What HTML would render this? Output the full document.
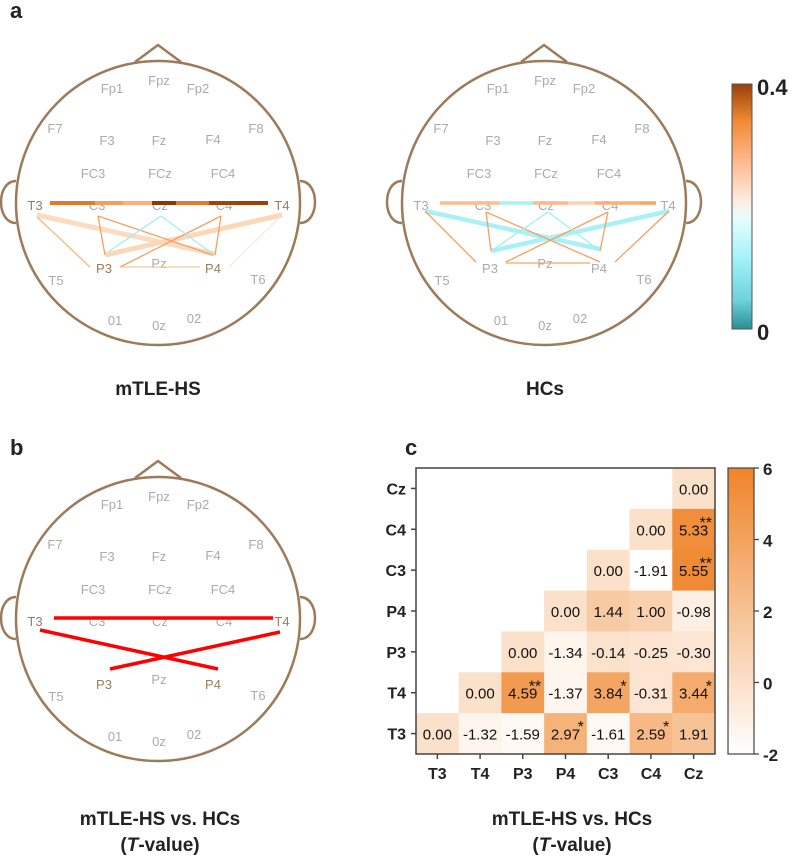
<!DOCTYPE html>
<html><head><meta charset="utf-8">
<style>
html,body{margin:0;padding:0;background:#fff;}
svg{display:block;font-family:"Liberation Sans",sans-serif;}
</style></head>
<body>
<svg id="fig" width="798" height="859" viewBox="0 0 798 859" xmlns="http://www.w3.org/2000/svg">
<defs>
<linearGradient id="cbA" x1="0" y1="1" x2="0" y2="0">
<stop offset="0" stop-color="#2a8e95"/><stop offset="0.12" stop-color="#6fd3dc"/><stop offset="0.3" stop-color="#a8f3fa"/><stop offset="0.45" stop-color="#e6fdfd"/><stop offset="0.52" stop-color="#fbeee3"/><stop offset="0.7" stop-color="#fdb483"/><stop offset="0.85" stop-color="#f08a34"/><stop offset="1" stop-color="#98400a"/>
</linearGradient>
<linearGradient id="cbC" x1="0" y1="1" x2="0" y2="0">
<stop offset="0" stop-color="#ffffff"/><stop offset="1" stop-color="#ef8429"/>
</linearGradient>
</defs>
<g id="panels"></g>
</svg>
<script>
const NS="http://www.w3.org/2000/svg";
const svg=document.getElementById('panels');
function mk(tag,attrs,parent,txt){const e=document.createElementNS(NS,tag);for(const k in attrs)e.setAttribute(k,attrs[k]);if(txt!==undefined)e.textContent=txt;(parent||svg).appendChild(e);return e;}

// heatmap data
const cols=["T3","T4","P3","P4","C3","C4","Cz"];
const rowsTop=["Cz","C4","C3","P4","P3","T4","T3"];
const rowT3=[0.00,-1.32,-1.59,2.97,-1.61,2.59,1.91];
const rowT4=[null,0.00,4.59,-1.37,3.84,-0.31,3.44];
const rowP3=[null,null,0.00,-1.34,-0.14,-0.25,-0.30];
const rowP4=[null,null,null,0.00,1.44,1.00,-0.98];
const rowC3=[null,null,null,null,0.00,-1.91,5.55];
const rowC4=[null,null,null,null,null,0.00,5.33];
const rowCz=[null,null,null,null,null,null,0.00];
const starsT3=["","","","*","","*",""];
const starsT4=["","","**","","*","","*"];
const starsC3=["","","","","","","**"];
const starsC4=["","","","","","","**"];
const cbTicks=[6,4,2,0,-2];

// electrode layout (relative to head centre)
const elec={Fp1:[-46,-115],Fpz:[1,-123],Fp2:[40,-115],F7:[-103,-75],F3:[-51,-63],Fz:[1,-63],F4:[55,-64],F8:[98,-75],FC3:[-65,-30],FCz:[2,-30],FC4:[65,-30],T3:[-123,2],C3:[-61,2],Cz:[2,2],C4:[66,2],T4:[124,2],P3:[-54,65],Pz:[1,60],P4:[55,65],T5:[-102,77],T6:[100,76],O1:[-43,117],Oz:[1,122],O2:[36,115]};
const labelText={O1:"01",Oz:"0z",O2:"02",C3:"C3",Cz:"Cz",C4:"C4"};

function head(cx,cy,name,hl){
  const g=mk('g',{});
  
  
  const st={fill:'none',stroke:'#9c7b5b','stroke-width':2.5};
  mk('path',Object.assign({d:`M${cx-23},${cy-141} L${cx},${cy-158} L${cx+23},${cy-141}`},st),g);
  mk('path',Object.assign({d:`M${cx-142},${cy-22} C${cx-162},${cy-22} ${cx-162},${cy+20} ${cx-142},${cy+20}`},st),g);
  mk('path',Object.assign({d:`M${cx+142},${cy-22} C${cx+162},${cy-22} ${cx+162},${cy+20} ${cx+142},${cy+20}`},st),g);
  mk('circle',Object.assign({cx:cx,cy:cy,r:142},st),g);
  for(const k in elec){
    const t=mk('text',{x:cx+elec[k][0],y:cy+elec[k][1]+5,'text-anchor':'middle','font-size':13,fill:hl.includes(k)?'#9c7b5b':'#aaaaaa'},g,labelText[k]||k);
    
    
  }
  return g;
}
function line(g,x1,y1,x2,y2,c,w,name){
  const l=mk('line',{x1,y1,x2,y2,stroke:c,'stroke-width':w},g);
  
  
}
function txt(x,y,s,size,anchor,name,extra){
  const t=mk('text',Object.assign({x,y,'font-size':size,'font-weight':'bold','text-anchor':anchor||'middle',fill:'#222'},extra||{}),svg,s);
  
  
  return t;
}

// Panel a - mTLE-HS
let cx=158,cy=203;
let g=head(cx,cy,'head-mtle-hs',['T3','T4','P3','P4']);
const segA=[[50,95,'#e07a2c'],[95,123,'#f0a060'],[123,152,'#fbb27c'],[152,176,'#8a3a08'],[176,209,'#e27a30'],[209,236,'#a0450c'],[236,268,'#9a420a']];
segA.forEach((s,i)=>line(g,s[0],cy,s[1],cy,s[2],4,'conn-t3-t4-seg'+i));
line(g,37,215,215,254,'#fbdcc0',5,'conn-t3-p4');
line(g,282,215,105,255,'#fbd8b8',5,'conn-t4-p3');
line(g,98,216,105,255,'#f5a060',1.3,'conn-c3-p3');
line(g,98,216,213,255,'#f5a060',1.3,'conn-c3-p4');
line(g,221,216,215,255,'#f5a060',1.3,'conn-c4-p4');
line(g,221,216,120,267,'#f5a060',1.3,'conn-c4-p3');
line(g,161,216,108,252,'#9eeff5',1.3,'conn-cz-p3');
line(g,161,216,213,254,'#9eeff5',1.3,'conn-cz-p4');
line(g,120,267,200,267,'#f8c8a0',1.3,'conn-p3-p4');
line(g,37,217,90,267,'#f8b880',1.3,'conn-t3-p3');
line(g,280,217,229,267,'#f3ebe3',1.3,'conn-t4-p4');

// Panel a - HCs
cx=544;
g=head(cx,cy,'head-hcs',[]);
const segB=[[440,500,'#fbbf90'],[500,533,'#a8f1f6'],[533,568,'#fbb88a'],[568,595,'#fdd2b0'],[595,640,'#f9b07a'],[640,656,'#f6a46a']];
segB.forEach((s,i)=>line(g,s[0],cy,s[1],cy,s[2],3.5,'conn-t3-t4-seg'+i));
line(g,425,211,600,249,'#a9f1f6',4.5,'conn-t3-p4');
line(g,669,211,491,251,'#a9f1f6',4.5,'conn-t4-p3');
line(g,486,212,491,251,'#f5a060',1.3,'conn-c3-p3');
line(g,486,212,600,262,'#f5a060',1.3,'conn-c3-p4');
line(g,608,212,600,251,'#f5a060',1.3,'conn-c4-p4');
line(g,608,212,506,262,'#f5a060',1.3,'conn-c4-p3');
line(g,548,212,491,251,'#9eeff5',1.3,'conn-cz-p3');
line(g,548,212,600,251,'#9eeff5',1.3,'conn-cz-p4');
line(g,506,263,590,263,'#f5a868',1.3,'conn-p3-p4');
line(g,425,211,476,262,'#f5a060',1.3,'conn-t3-p3');
line(g,669,211,615,262,'#f5a060',1.3,'conn-t4-p4');

// colorbar a
let r=mk('rect',{x:732,y:84,width:20,height:245,fill:'url(#cbA)',stroke:'#555','stroke-width':1});

txt(757,95,'0.4',22,'start','colorbar-a-max');
txt(757,340,'0',22,'start','colorbar-a-min');

txt(10,18,'a',22,'start','panel-label-a');
txt(158,395,'mTLE-HS',19,'middle','title-mtle-hs');
txt(545,395,'HCs',19,'middle','title-hcs');

// Panel b
cx=158;cy=619;
g=head(cx,cy,'head-difference',['T3','T4','P3','P4']);
line(g,54,618,273,618,'#ff0000',3.5,'conn-t3-t4');
line(g,40,630,218,669,'#ff0000',3.5,'conn-t3-p4');
line(g,280,632,110,669,'#ff0000',3.5,'conn-t4-p3');
txt(10,455,'b',22,'start','panel-label-b');
txt(160,825,'mTLE-HS vs. HCs',19,'middle','title-b-line1');
let t2=txt(160,851,'',19,'middle','title-b-line2');
t2.innerHTML='(<tspan font-style="italic">T</tspan>-value)';

// Panel c heatmap
txt(405,455,'c',22,'start','panel-label-c');
const L=416,R=715,T=468,B=754,cw=(R-L)/cols.length,ch=(B-T)/rowsTop.length;
const vmin=-2,vmax=6;
function xPos(i){return L+i*cw;}
function yPos(j){return T+j*ch;}
function color(v){const f=Math.max(0,Math.min(1,(v-vmin)/(vmax-vmin)));const a=[255,255,255],b=[239,132,41];return `rgb(${a.map((x,i)=>Math.round(x+(b[i]-x)*f)).join(',')})`;}
const rowData={T3:rowT3,T4:rowT4,P3:rowP3,P4:rowP4,C3:rowC3,C4:rowC4,Cz:rowCz};
const rowStars={T3:starsT3,T4:starsT4,C3:starsC3,C4:starsC4};
const hm=mk('g',{});


rowsTop.forEach((rn,j)=>{
  rowData[rn].forEach((v,i)=>{
    if(v===null)return;
    const c=mk('rect',{x:xPos(i),y:yPos(j),width:cw+0.5,height:ch+0.5,fill:color(v)},hm);
    
    
    const t=mk('text',{x:xPos(i)+cw/2,y:yPos(j)+ch/2+6,'text-anchor':'middle','font-size':15,fill:'#111'},hm,v.toFixed(2));
    
    
    const s=rowStars[rn]?rowStars[rn][i]:'';
    if(s){const st=mk('text',{x:xPos(i)+cw-3,y:yPos(j)+19,'text-anchor':'end','font-size':16,fill:'#111'},hm,s);
      
      }
  });
});
r=mk('rect',{x:L,y:T,width:R-L,height:B-T,fill:'none',stroke:'#444','stroke-width':1.5});

cols.forEach((c,i)=>{
  const x=xPos(i)+cw/2;
  line(svg,x,B,x,B+5,'#444',1.5,'x-tick');
  txt(x,B+25,c,16,'middle','x-tick-label-'+c.toLowerCase());
});
rowsTop.forEach((rn,j)=>{
  const y=yPos(j)+ch/2;
  line(svg,L-5,y,L,y,'#444',1.5,'y-tick');
  txt(L-10,y+6,rn,16,'end','y-tick-label-'+rn.toLowerCase());
});
r=mk('rect',{x:728,y:T,width:26,height:B-T,fill:'url(#cbC)',stroke:'#444','stroke-width':1.2});

cbTicks.forEach(v=>{
  const y=B-(v-vmin)/(vmax-vmin)*(B-T);
  line(svg,754,y,759,y,'#444',1.3,'colorbar-tick');
  txt(763,y+7,String(v),17,'start','colorbar-tick-label');
});
txt(572,825,'mTLE-HS vs. HCs',19,'middle','title-c-line1');
t2=txt(572,851,'',19,'middle','title-c-line2');
t2.innerHTML='(<tspan font-style="italic">T</tspan>-value)';
</script>
</body></html>
